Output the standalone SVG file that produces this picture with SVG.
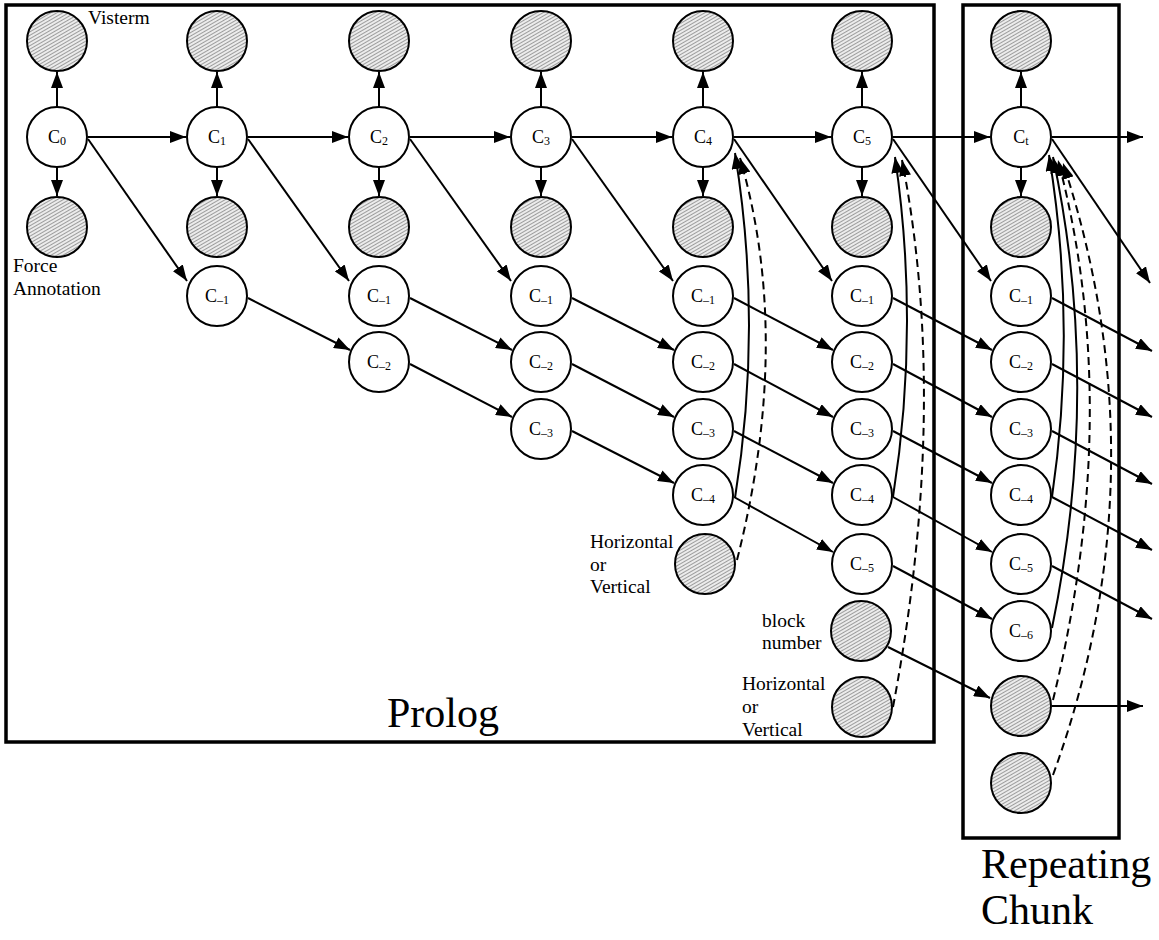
<svg xmlns="http://www.w3.org/2000/svg" width="1159" height="940" viewBox="0 0 1159 940">
  <style>
    .node { fill: #fff; stroke: #000; stroke-width: 2; }
    .shade { fill: url(#hatch); stroke: #000; stroke-width: 2; }
    .edge { fill: none; stroke: #000; stroke-width: 2; marker-end: url(#arrow); }
    .dash { stroke-dasharray: 8 5; }
    .box { fill: none; stroke: #000; stroke-width: 3.5; }
    .lbl { font-family: "Liberation Serif", "Times New Roman", serif; font-size: 18px; text-anchor: middle; fill: #000; }
    .sub { font-size: 12px; }
    .note { font-family: "Liberation Serif", "Times New Roman", serif; font-size: 19.5px; fill: #000; }
    .title { font-family: "Liberation Serif", "Times New Roman", serif; font-size: 42px; fill: #000; }
  </style>
  <defs>
    <pattern id="hatch" patternUnits="userSpaceOnUse" width="3" height="3" patternTransform="rotate(-30)">
      <rect width="3" height="3" fill="#ececec"/>
      <line x1="0" y1="0.5" x2="3" y2="0.5" stroke="#9c9c9c" stroke-width="1"/>
    </pattern>
    <marker id="arrow" markerUnits="userSpaceOnUse" markerWidth="16" markerHeight="12" refX="16" refY="6" orient="auto">
      <path d="M0,0 L16,6 L0,12 z" fill="#000"/>
    </marker>
  </defs>

  <!-- frames -->
  <rect class="box" x="6" y="5" width="928" height="737"/>
  <rect class="box" x="963" y="5" width="156" height="833"/>
  <text class="title" x="387" y="727">Prolog</text>
  <text class="title" x="981" y="878">Repeating</text>
  <text class="title" x="981" y="924">Chunk</text>

  <!-- annotations -->
  <text class="note" x="88" y="24">Visterm</text>
  <text class="note" x="13" y="272">Force</text>
  <text class="note" x="13" y="295">Annotation</text>
  <text class="note" x="590" y="548">Horizontal</text>
  <text class="note" x="590" y="571">or</text>
  <text class="note" x="590" y="593">Vertical</text>
  <text class="note" x="762" y="627">block</text>
  <text class="note" x="762" y="649">number</text>
  <text class="note" x="742" y="690">Horizontal</text>
  <text class="note" x="742" y="713">or</text>
  <text class="note" x="742" y="736">Vertical</text>

  <!-- connectors -->
  <g id="connectors">
    <!-- up to visterm -->
    <line class="edge" x1="57" y1="107" x2="57" y2="72"/>
    <line class="edge" x1="217" y1="107" x2="217" y2="72"/>
    <line class="edge" x1="379" y1="107" x2="379" y2="72"/>
    <line class="edge" x1="541" y1="107" x2="541" y2="72"/>
    <line class="edge" x1="703" y1="107" x2="703" y2="72"/>
    <line class="edge" x1="862" y1="107" x2="862" y2="72"/>
    <line class="edge" x1="1021" y1="107" x2="1021" y2="72"/>
    <!-- down to force annotation -->
    <line class="edge" x1="57" y1="167" x2="57" y2="196"/>
    <line class="edge" x1="217" y1="167" x2="217" y2="196"/>
    <line class="edge" x1="379" y1="167" x2="379" y2="196"/>
    <line class="edge" x1="541" y1="167" x2="541" y2="196"/>
    <line class="edge" x1="703" y1="167" x2="703" y2="196"/>
    <line class="edge" x1="862" y1="167" x2="862" y2="196"/>
    <line class="edge" x1="1021" y1="167" x2="1021" y2="196"/>
    <!-- current chunk to next -->
    <line class="edge" x1="88" y1="137" x2="186" y2="137"/>
    <line class="edge" x1="248" y1="137" x2="348" y2="137"/>
    <line class="edge" x1="410" y1="137" x2="510" y2="137"/>
    <line class="edge" x1="572" y1="137" x2="672" y2="137"/>
    <line class="edge" x1="734" y1="137" x2="831" y2="137"/>
    <line class="edge" x1="893" y1="137" x2="990" y2="137"/>
    <line class="edge" x1="1052" y1="137" x2="1143" y2="137"/>
    <!-- current chunk to history -->
    <line class="edge" x1="88" y1="139" x2="187" y2="281"/>
    <line class="edge" x1="248" y1="139" x2="349" y2="281"/>
    <line class="edge" x1="410" y1="139" x2="511" y2="281"/>
    <line class="edge" x1="572" y1="139" x2="673" y2="281"/>
    <line class="edge" x1="734" y1="139" x2="832" y2="281"/>
    <line class="edge" x1="893" y1="139" x2="991" y2="281"/>
    <line class="edge" x1="1052" y1="139" x2="1150" y2="283"/>
    <!-- history shift -->
    <line class="edge" x1="248" y1="298" x2="350" y2="350"/>
    <line class="edge" x1="410" y1="298" x2="512" y2="350"/>
    <line class="edge" x1="410" y1="364" x2="512" y2="417"/>
    <line class="edge" x1="572" y1="298" x2="674" y2="350"/>
    <line class="edge" x1="572" y1="364" x2="674" y2="417"/>
    <line class="edge" x1="572" y1="431" x2="674" y2="483"/>
    <line class="edge" x1="734" y1="298" x2="833" y2="350"/>
    <line class="edge" x1="734" y1="364" x2="833" y2="417"/>
    <line class="edge" x1="734" y1="431" x2="833" y2="483"/>
    <line class="edge" x1="734" y1="497" x2="833" y2="552"/>
    <line class="edge" x1="893" y1="298" x2="992" y2="350"/>
    <line class="edge" x1="893" y1="364" x2="992" y2="417"/>
    <line class="edge" x1="893" y1="431" x2="992" y2="483"/>
    <line class="edge" x1="893" y1="497" x2="992" y2="552"/>
    <line class="edge" x1="893" y1="566" x2="992" y2="619"/>
    <line class="edge" x1="1052" y1="298" x2="1152" y2="351"/>
    <line class="edge" x1="1052" y1="364" x2="1152" y2="417"/>
    <line class="edge" x1="1052" y1="431" x2="1152" y2="484"/>
    <line class="edge" x1="1052" y1="497" x2="1152" y2="550"/>
    <line class="edge" x1="1052" y1="566" x2="1152" y2="619"/>
    <!-- block number -->
    <line class="edge" x1="888" y1="647" x2="990" y2="698"/>
    <line class="edge" x1="1052" y1="706" x2="1143" y2="706"/>
    <!-- feedback curves -->
    <path class="edge" d="M735,498 Q763,325 735,153"/>
    <path class="edge dash" d="M737,560 Q793,340 740,158"/>
    <path class="edge" d="M893,497 Q920,327 895,157"/>
    <path class="edge dash" d="M893,707 Q950,406 902,160"/>
    <path class="edge" d="M1052,497 Q1077,326 1049,155"/>
    <path class="edge" d="M1052,628 Q1102,387 1053,157"/>
    <path class="edge dash" d="M1053,700 Q1124,410 1058,160"/>
    <path class="edge dash" d="M1053,775 Q1164,470 1063,163"/>
  </g>

  <!-- column 0 -->
  <g id="vis0"><circle class="shade" cx="57" cy="41" r="30"/></g>
  <g id="c0"><circle class="node" cx="57" cy="137" r="30"/><text class="lbl" x="57" y="143">C<tspan class="sub" dy="2">0</tspan></text></g>
  <g id="force0"><circle class="shade" cx="57" cy="227" r="30"/></g>

  <!-- column 1 -->
  <g id="vis1"><circle class="shade" cx="217" cy="41" r="30"/></g>
  <g id="c1"><circle class="node" cx="217" cy="137" r="30"/><text class="lbl" x="217" y="143">C<tspan class="sub" dy="2">1</tspan></text></g>
  <g id="force1"><circle class="shade" cx="217" cy="227" r="30"/></g>
  <g id="c1m1"><circle class="node" cx="217" cy="296" r="30"/><text class="lbl" x="217" y="302">C<tspan class="sub" dy="2">–1</tspan></text></g>

  <!-- column 2 -->
  <g id="vis2"><circle class="shade" cx="379" cy="41" r="30"/></g>
  <g id="c2"><circle class="node" cx="379" cy="137" r="30"/><text class="lbl" x="379" y="143">C<tspan class="sub" dy="2">2</tspan></text></g>
  <g id="force2"><circle class="shade" cx="379" cy="227" r="30"/></g>
  <g id="c2m1"><circle class="node" cx="379" cy="296" r="30"/><text class="lbl" x="379" y="302">C<tspan class="sub" dy="2">–1</tspan></text></g>
  <g id="c2m2"><circle class="node" cx="379" cy="362" r="30"/><text class="lbl" x="379" y="368">C<tspan class="sub" dy="2">–2</tspan></text></g>

  <!-- column 3 -->
  <g id="vis3"><circle class="shade" cx="541" cy="41" r="30"/></g>
  <g id="c3"><circle class="node" cx="541" cy="137" r="30"/><text class="lbl" x="541" y="143">C<tspan class="sub" dy="2">3</tspan></text></g>
  <g id="force3"><circle class="shade" cx="541" cy="227" r="30"/></g>
  <g id="c3m1"><circle class="node" cx="541" cy="296" r="30"/><text class="lbl" x="541" y="302">C<tspan class="sub" dy="2">–1</tspan></text></g>
  <g id="c3m2"><circle class="node" cx="541" cy="362" r="30"/><text class="lbl" x="541" y="368">C<tspan class="sub" dy="2">–2</tspan></text></g>
  <g id="c3m3"><circle class="node" cx="541" cy="429" r="30"/><text class="lbl" x="541" y="435">C<tspan class="sub" dy="2">–3</tspan></text></g>

  <!-- column 4 -->
  <g id="vis4"><circle class="shade" cx="703" cy="41" r="30"/></g>
  <g id="c4"><circle class="node" cx="703" cy="137" r="30"/><text class="lbl" x="703" y="143">C<tspan class="sub" dy="2">4</tspan></text></g>
  <g id="force4"><circle class="shade" cx="703" cy="227" r="30"/></g>
  <g id="c4m1"><circle class="node" cx="703" cy="296" r="30"/><text class="lbl" x="703" y="302">C<tspan class="sub" dy="2">–1</tspan></text></g>
  <g id="c4m2"><circle class="node" cx="703" cy="362" r="30"/><text class="lbl" x="703" y="368">C<tspan class="sub" dy="2">–2</tspan></text></g>
  <g id="c4m3"><circle class="node" cx="703" cy="429" r="30"/><text class="lbl" x="703" y="435">C<tspan class="sub" dy="2">–3</tspan></text></g>
  <g id="c4m4"><circle class="node" cx="703" cy="495" r="30"/><text class="lbl" x="703" y="501">C<tspan class="sub" dy="2">–4</tspan></text></g>
  <g id="hv4"><circle class="shade" cx="705" cy="564" r="30"/></g>

  <!-- column 5 -->
  <g id="vis5"><circle class="shade" cx="862" cy="41" r="30"/></g>
  <g id="c5"><circle class="node" cx="862" cy="137" r="30"/><text class="lbl" x="862" y="143">C<tspan class="sub" dy="2">5</tspan></text></g>
  <g id="force5"><circle class="shade" cx="862" cy="227" r="30"/></g>
  <g id="c5m1"><circle class="node" cx="862" cy="296" r="30"/><text class="lbl" x="862" y="302">C<tspan class="sub" dy="2">–1</tspan></text></g>
  <g id="c5m2"><circle class="node" cx="862" cy="362" r="30"/><text class="lbl" x="862" y="368">C<tspan class="sub" dy="2">–2</tspan></text></g>
  <g id="c5m3"><circle class="node" cx="862" cy="429" r="30"/><text class="lbl" x="862" y="435">C<tspan class="sub" dy="2">–3</tspan></text></g>
  <g id="c5m4"><circle class="node" cx="862" cy="495" r="30"/><text class="lbl" x="862" y="501">C<tspan class="sub" dy="2">–4</tspan></text></g>
  <g id="c5m5"><circle class="node" cx="862" cy="564" r="30"/><text class="lbl" x="862" y="570">C<tspan class="sub" dy="2">–5</tspan></text></g>
  <g id="blk5"><circle class="shade" cx="861" cy="631" r="30"/></g>
  <g id="hv5"><circle class="shade" cx="862" cy="707" r="30"/></g>

  <!-- repeating chunk -->
  <g id="vist"><circle class="shade" cx="1021" cy="41" r="30"/></g>
  <g id="ct"><circle class="node" cx="1021" cy="137" r="30"/><text class="lbl" x="1021" y="143">C<tspan class="sub" dy="2">t</tspan></text></g>
  <g id="forcet"><circle class="shade" cx="1021" cy="227" r="30"/></g>
  <g id="ctm1"><circle class="node" cx="1021" cy="296" r="30"/><text class="lbl" x="1021" y="302">C<tspan class="sub" dy="2">–1</tspan></text></g>
  <g id="ctm2"><circle class="node" cx="1021" cy="362" r="30"/><text class="lbl" x="1021" y="368">C<tspan class="sub" dy="2">–2</tspan></text></g>
  <g id="ctm3"><circle class="node" cx="1021" cy="429" r="30"/><text class="lbl" x="1021" y="435">C<tspan class="sub" dy="2">–3</tspan></text></g>
  <g id="ctm4"><circle class="node" cx="1021" cy="495" r="30"/><text class="lbl" x="1021" y="501">C<tspan class="sub" dy="2">–4</tspan></text></g>
  <g id="ctm5"><circle class="node" cx="1021" cy="564" r="30"/><text class="lbl" x="1021" y="570">C<tspan class="sub" dy="2">–5</tspan></text></g>
  <g id="ctm6"><circle class="node" cx="1021" cy="631" r="30"/><text class="lbl" x="1021" y="637">C<tspan class="sub" dy="2">–6</tspan></text></g>
  <g id="blkt"><circle class="shade" cx="1021" cy="706" r="30"/></g>
  <g id="hvt"><circle class="shade" cx="1021" cy="783" r="30"/></g>
</svg>
